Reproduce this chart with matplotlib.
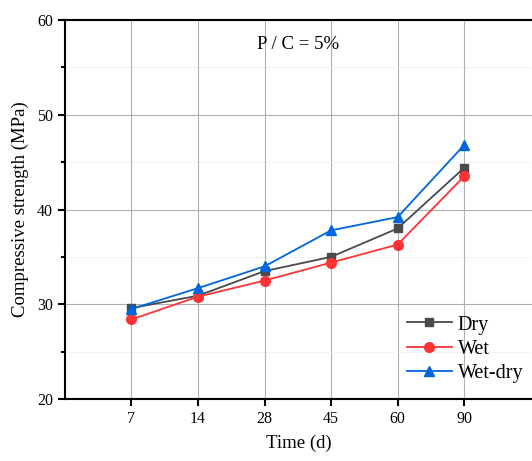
import matplotlib.pyplot as plt
import numpy as np
from matplotlib.ticker import MultipleLocator

plt.rcParams.update(
    {
        "font.family": "serif",
        "font.serif": ["Liberation Serif", "DejaVu Serif"],
        "font.size": 11.5,
        "axes.linewidth": 1.5,
        "xtick.direction": "out",
        "ytick.direction": "out",
        "xtick.major.width": 1.5,
        "ytick.major.width": 1.5,
        "ytick.minor.width": 1.5,
        "xtick.major.size": 5,
        "ytick.major.size": 5,
        "ytick.minor.size": 3,
    }
)

# data
days = ["7", "14", "28", "45", "60", "90"]
dry = [29.6, 30.9, 33.5, 35.0, 38.0, 44.4]
wet = [28.4, 30.8, 32.5, 34.4, 36.3, 43.5]
wet_dry = [29.5, 31.7, 34.0, 37.8, 39.2, 46.8]

x = np.arange(1, len(days) + 1)

fig = plt.figure(figsize=(5.32, 4.61), dpi=100)
ax = fig.add_axes([0.122, 0.1345, 0.878, 0.822])

ax.grid(True, which="major", color="#b0b0b0", linewidth=0.8)
ax.grid(True, which="minor", axis="y", color="#dddddd", linestyle=":", linewidth=0.7)
ax.set_axisbelow(True)

ax.plot(x, dry, color="#4a4a4a", marker="s", markersize=6, linewidth=1.3, label="Dry")
ax.plot(x, wet, color="#ff3333", marker="o", markersize=7, linewidth=1.3, label="Wet")
ax.plot(x, wet_dry, color="#0066dd", marker="^", markersize=7.5, linewidth=1.3, label="Wet-dry")

ax.set_xlim(0, 7.02)
ax.set_ylim(20, 60)
ax.set_xticks(x)
ax.set_xticklabels(days)
ax.yaxis.set_major_locator(MultipleLocator(10))
ax.yaxis.set_minor_locator(MultipleLocator(5))
ax.spines["right"].set_visible(False)

ax.set_xlabel("Time (d)", fontsize=13.5, labelpad=6)
ax.set_ylabel("Compressive strength (MPa)", fontsize=13.5, labelpad=6)

ax.text(0.5, 0.935, "P / C = 5%", transform=ax.transAxes, ha="center", va="center", fontsize=13.5)

ax.legend(loc="lower right", bbox_to_anchor=(1.02, -0.005), frameon=False, fontsize=14.5,
          handlelength=2.2, handletextpad=0.3, labelspacing=0.25)

plt.savefig("out.png", dpi=100)
